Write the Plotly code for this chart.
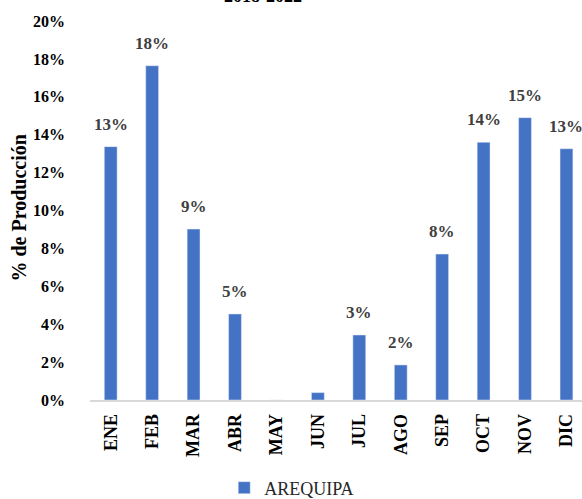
import plotly.graph_objects as go

months = ["ENE", "FEB", "MAR", "ABR", "MAY", "JUN", "JUL", "AGO", "SEP", "OCT", "NOV", "DIC"]
arequipa = [0.1337, 0.1764, 0.0902, 0.0454, 0.0, 0.0039, 0.0343, 0.0185, 0.0770, 0.1360, 0.1490, 0.1326]
y_ticks = [0.0, 0.02, 0.04, 0.06, 0.08, 0.10, 0.12, 0.14, 0.16, 0.18, 0.20]

labels = [f"{round(v * 100)}%" if v >= 0.005 else "" for v in arequipa]

W, H = 582, 499
ml, mr, mt, mb = 90, 0, 21, 99
plot_w, plot_h = W - ml - mr, H - mt - mb

fig = go.Figure()
fig.add_trace(go.Bar(
    x=months, y=arequipa, name="AREQUIPA",
    marker=dict(color="#4472C4"),
    width=0.31,
))

annotations = [dict(
    text=lab, x=m, y=v, xref="x", yref="y", xanchor="center", yanchor="bottom",
    yshift=11, showarrow=False,
    font=dict(family="Liberation Serif", size=17, color="#404040", weight="bold"),
) for m, v, lab in zip(months, arequipa, labels) if lab]

annotations.append(dict(
    text="2018-2022", xref="paper", yref="paper", x=(263 - ml) / plot_w, y=1.0345,
    xanchor="center", yanchor="bottom", showarrow=False,
    font=dict(family="Liberation Serif", size=18, color="black", weight="bold"),
))
annotations.append(dict(
    text="% de Producción", xref="paper", yref="paper", x=(18.5 - ml) / plot_w,
    y=(400 - 208) / plot_h, xanchor="center", yanchor="middle", textangle=-90, showarrow=False,
    font=dict(family="Liberation Serif", size=20, color="black", weight="bold"),
))

fig.update_layout(
    width=W, height=H,
    margin=dict(l=ml, r=mr, t=mt, b=mb, autoexpand=False),
    paper_bgcolor="white", plot_bgcolor="white",
    showlegend=True,
    legend=dict(orientation="h", x=0.41, xanchor="center", y=(400 - 488) / plot_h, yanchor="middle",
                font=dict(family="Liberation Serif", size=18, color="#262626")),
    font=dict(family="Liberation Serif"),
    xaxis=dict(
        range=[-0.5, 11.375], showgrid=False, showline=True, linecolor="#d9d9d9", linewidth=1.5,
        tickangle=-90, ticks="", ticklabelstandoff=5, automargin=False,
        tickfont=dict(family="Liberation Serif", size=18, color="black", weight="bold"),
    ),
    yaxis=dict(
        range=[0, 0.20], tickvals=y_ticks, tickformat=".0%", showgrid=False, showline=False,
        zeroline=False, ticks="", ticklabelstandoff=24, automargin=False,
        tickfont=dict(family="Liberation Serif", size=16, color="black", weight="bold"),
    ),
    annotations=annotations,
)

fig.write_html("out.html", config={"displayModeBar": False},
               post_script="document.body.style.margin='0';")
